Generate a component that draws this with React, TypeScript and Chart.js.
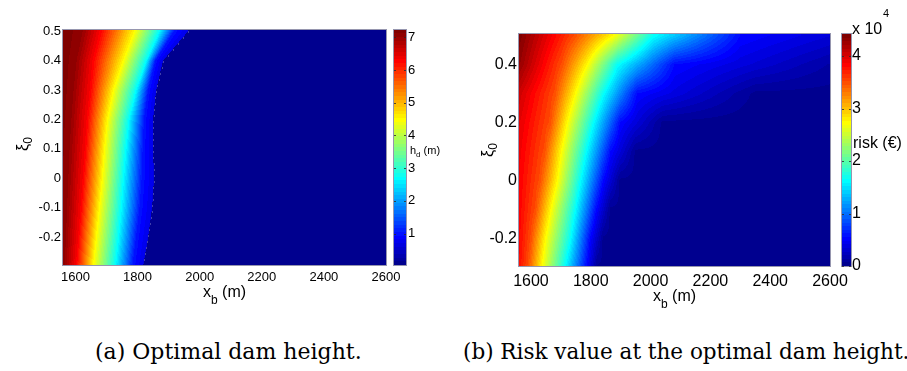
import React, { useEffect, useRef } from "react";
import { Chart, registerables } from "chart.js";

Chart.register(...registerables);

// ---------------- shared axes ----------------
const X_MIN = 1560;
const X_MAX = 2600;
const X_TICKS = [1600, 1800, 2000, 2200, 2400, 2600];
const XI_MIN = -0.295;
const XI_MAX = 0.505;
const XI_ROWS = [0.5, 0.4, 0.3, 0.2, 0.1, 0, -0.1, -0.2, -0.3];

// ---------------- panel (a): optimal dam height h_d (m) ----------------
const XI_TICKS_A = [-0.2, -0.1, 0, 0.1, 0.2, 0.3, 0.4, 0.5];
const HD_MIN = 0.04;
const HD_MAX = 7.23;
const HD_TICKS = [1, 2, 3, 4, 5, 6, 7];
const HD_LEVELS = [7.0, 6.3, 4.5, 2.7, 1.0, 0.7];
const HD_LEFT = [7.23, 7.2, 7.18, 7.15, 7.13, 7.12, 7.1, 7.08, 7.05];
const HD_X_70 = [1625, 1605, 1595, 1588, 1582, 1578, 1574, 1570, 1566];
const HD_X_63 = [1680, 1657, 1648, 1638, 1632, 1625, 1618, 1610, 1603];
const HD_X_45 = [1790, 1754, 1722, 1703, 1693, 1686, 1677, 1667, 1657];
const HD_X_27 = [1870, 1828, 1795, 1772, 1762, 1754, 1747, 1738, 1728];
const HD_X_10 = [1918, 1858, 1835, 1822, 1818, 1815, 1808, 1797, 1785];
const HD_EDGE = [1963, 1882, 1860, 1850, 1850, 1853, 1847, 1834, 1818];
const HD_BEYOND = 0.04;

// ---------------- panel (b): risk (x 10^4 €) ----------------
const XI_TICKS_B = [-0.2, 0, 0.2, 0.4];
const RISK_MIN = 0;
const RISK_MAX = 4.42;
const RISK_TICKS = [0, 1, 2, 3, 4];
const RISK_LEVELS = [3.5, 2.76, 1.66, 0.55, 0.05];
const RISK_LEFT = [4.4, 4.3, 4.05, 3.95, 3.9, 3.87, 3.85, 3.83, 3.8];
const RISK_X_350 = [1747, 1704, 1680, 1664, 1645, 1630, 1615, 1600, 1590];
const RISK_X_276 = [1874, 1787, 1747, 1720, 1700, 1687, 1665, 1647, 1635];
const RISK_X_166 = [2008, 1888, 1841, 1807, 1783, 1764, 1747, 1731, 1712];
const RISK_X_055 = [2300, 2080, 1955, 1898, 1866, 1841, 1818, 1797, 1785];
const RISK_X_005 = [null, null, 2350, 2040, 1950, 1898, 1865, 1841, 1821];
const RISK_RIGHT = [0.35, 0.13, 0.04, 0, 0, 0, 0, 0, 0];

const SANS = "'Liberation Sans', Arial, Helvetica, sans-serif";

// ---------------- helpers ----------------
function jetU(i: number): number {
  if (i < 1 || i > 47) return 0;
  if (i <= 16) return i / 16;
  if (i <= 31) return 1;
  return (48 - i) / 16;
}
function jet64(k: number): [number, number, number] {
  const r = k >= 25 ? jetU(k - 24) : 0;
  const g = k >= 9 && k <= 55 ? jetU(k - 8) : 0;
  const b = k <= 39 ? jetU(k + 8) : 0;
  return [Math.round(r * 255), Math.round(g * 255), Math.round(b * 255)];
}
function colorOf(v: number, cmin: number, cmax: number): [number, number, number] {
  let k = Math.floor(((v - cmin) / (cmax - cmin)) * 64) + 1;
  if (k < 1) k = 1;
  if (k > 64) k = 64;
  return jet64(k);
}
function bracket(xi: number): [number, number, number] {
  const n = XI_ROWS.length;
  if (xi >= XI_ROWS[0]) return [0, 0, 0];
  for (let r = 0; r < n - 1; r++) {
    if (xi <= XI_ROWS[r] && xi >= XI_ROWS[r + 1]) {
      return [r, r + 1, (XI_ROWS[r] - xi) / (XI_ROWS[r] - XI_ROWS[r + 1])];
    }
  }
  return [n - 1, n - 1, 0];
}
function piecewise(xs: number[], vs: number[], x: number): number {
  if (x <= xs[0]) return vs[0];
  for (let k = 1; k < xs.length; k++) {
    if (x <= xs[k]) {
      const d = xs[k] - xs[k - 1] || 1;
      const t = (x - xs[k - 1]) / d;
      return vs[k - 1] + t * (vs[k] - vs[k - 1]);
    }
  }
  return vs[vs.length - 1];
}

type Field = (xi: number) => (x: number) => number;

const HD_POS = [HD_X_70, HD_X_63, HD_X_45, HD_X_27, HD_X_10, HD_EDGE];
const hdField: Field = (xi) => {
  const [r0, r1, w] = bracket(xi);
  const L = (arr: number[]) => arr[r0] * (1 - w) + arr[r1] * w;
  const xs = [X_MIN, ...HD_POS.map(L)];
  const vs = [L(HD_LEFT), ...HD_LEVELS];
  const edge = xs[xs.length - 1];
  return (x) => (x > edge ? HD_BEYOND : piecewise(xs, vs, x));
};
function hdEdgeAt(xi: number) {
  const [r0, r1, w] = bracket(xi);
  return HD_EDGE[r0] * (1 - w) + HD_EDGE[r1] * w;
}

const RISK_POS = [RISK_X_350, RISK_X_276, RISK_X_166, RISK_X_055, RISK_X_005];
function riskRow(r: number) {
  const xs = [X_MIN];
  const vs = [RISK_LEFT[r]];
  RISK_POS.forEach((arr: any[], k) => {
    const p = arr[r];
    if (p != null) {
      xs.push(p);
      vs.push(RISK_LEVELS[k]);
    }
  });
  xs.push(X_MAX);
  vs.push(RISK_RIGHT[r]);
  return { xs, vs };
}
const riskField: Field = (xi) => {
  const [r0, r1, w] = bracket(xi);
  const a = riskRow(r0);
  const b = riskRow(r1);
  return (x) => piecewise(a.xs, a.vs, x) * (1 - w) + piecewise(b.xs, b.vs, x) * w;
};

// text helper: parts = [text, fontSize, baselineOffset]
function drawSub(ctx: CanvasRenderingContext2D, x: number, y: number, parts: [string, number, number][], align: "left" | "center") {
  let total = 0;
  const widths = parts.map(([t, s]) => {
    ctx.font = `${s}px ${SANS}`;
    const w = ctx.measureText(t).width;
    total += w;
    return w;
  });
  let cx = align === "center" ? x - total / 2 : x;
  ctx.textAlign = "left";
  ctx.textBaseline = "alphabetic";
  parts.forEach(([t, s, off], i) => {
    ctx.font = `${s}px ${SANS}`;
    ctx.fillText(t, cx, y + off);
    cx += widths[i];
  });
}

function heatPlugin(s: any) {
  return {
    id: "heat",
    beforeDatasetsDraw(chart: any) {
      const { ctx, chartArea: a, scales } = chart;
      const left = Math.round(a.left);
      const top = Math.round(a.top);
      const w = Math.round(a.right) - left;
      const h = Math.round(a.bottom) - top;
      const off = document.createElement("canvas");
      off.width = w;
      off.height = h;
      const octx = off.getContext("2d")!;
      const img = octx.createImageData(w, h);
      const xVals: number[] = [];
      for (let i = 0; i < w; i++) xVals.push(scales.x.getValueForPixel(left + i + 0.5));
      for (let j = 0; j < h; j++) {
        const xi = scales.y.getValueForPixel(top + j + 0.5);
        const prof = s.field(xi);
        for (let i = 0; i < w; i++) {
          const [r, g, b] = colorOf(prof(xVals[i]), s.cmin, s.cmax);
          const p = (j * w + i) * 4;
          img.data[p] = r;
          img.data[p + 1] = g;
          img.data[p + 2] = b;
          img.data[p + 3] = 255;
        }
      }
      octx.putImageData(img, 0, 0);
      ctx.drawImage(off, left, top);
      if (s.edgeDots) s.edgeDots(ctx, chart);
    },
    afterDraw(chart: any) {
      const { ctx, chartArea: a, scales } = chart;
      ctx.save();
      ctx.strokeStyle = "rgb(150,150,175)";
      ctx.lineWidth = 1;
      ctx.strokeRect(Math.round(a.left) - 0.5, Math.round(a.top) - 0.5, Math.round(a.right - a.left) + 1, Math.round(a.bottom - a.top) + 1);
      const c = scales.c;
      const bx = Math.round(a.right) + s.barGap;
      for (let py = Math.round(c.top); py < Math.round(c.bottom); py++) {
        const v = c.getValueForPixel(py + 0.5);
        const [r, g, b] = colorOf(v, s.cmin, s.cmax);
        ctx.fillStyle = `rgb(${r},${g},${b})`;
        ctx.fillRect(bx, py, s.barW, 1);
      }
      ctx.strokeStyle = "rgb(150,150,175)";
      ctx.strokeRect(bx - 0.5, Math.round(c.top) - 0.5, s.barW + 1, Math.round(c.bottom - c.top) + 1);
      ctx.strokeStyle = "rgba(40,40,40,0.8)";
      s.cTicks.forEach((t: number) => {
        const py = Math.round(c.getPixelForValue(t)) + 0.5;
        ctx.beginPath();
        ctx.moveTo(bx, py);
        ctx.lineTo(bx + 2, py);
        ctx.moveTo(bx + s.barW, py);
        ctx.lineTo(bx + s.barW - 2, py);
        ctx.stroke();
      });
      ctx.fillStyle = "#000";
      s.deco(ctx, chart);
      ctx.restore();
    },
  };
}

function makeChart(canvas: HTMLCanvasElement, s: any) {
  const tickFont = { family: SANS, size: s.font };
  return new Chart(canvas, {
    type: "scatter",
    data: { datasets: [{ data: [], pointRadius: 0 }] },
    options: {
      animation: false,
      responsive: false,
      devicePixelRatio: 1,
      layout: { padding: s.pad },
      plugins: { legend: { display: false }, tooltip: { enabled: false } },
      scales: {
        x: {
          type: "linear",
          min: X_MIN,
          max: X_MAX,
          grid: { display: false, drawTicks: false },
          border: { display: false },
          afterBuildTicks: (ax: any) => {
            ax.ticks = X_TICKS.map((v) => ({ value: v }));
          },
          afterFit: (ax: any) => {
            ax.height = s.xH;
          },
          ticks: { font: tickFont, color: "#000", padding: s.xPad, maxRotation: 0, autoSkip: false, callback: (v: any) => String(v) },
        },
        y: {
          type: "linear",
          position: "left",
          min: XI_MIN,
          max: XI_MAX,
          grid: { display: false, drawTicks: false },
          border: { display: false },
          afterBuildTicks: (ax: any) => {
            ax.ticks = s.yTicks.map((v: number) => ({ value: v }));
          },
          afterFit: (ax: any) => {
            ax.width = s.yW;
          },
          ticks: { font: tickFont, color: "#000", padding: 2, autoSkip: false, callback: (v: any) => String(Math.round(v * 10) / 10) },
        },
        c: {
          type: "linear",
          axis: "y",
          position: "right",
          min: s.cmin,
          max: s.cmax,
          grid: { display: false, drawTicks: false },
          border: { display: false },
          afterBuildTicks: (ax: any) => {
            ax.ticks = s.cTicks.map((v: number) => ({ value: v }));
          },
          afterFit: (ax: any) => {
            ax.width = s.cW;
          },
          ticks: { font: tickFont, color: "#000", padding: s.cPad, autoSkip: false, callback: (v: any) => String(v) },
        },
      },
    } as any,
    plugins: [heatPlugin(s)],
  });
}

const SPEC_A: any = {
  pad: { top: 17, left: 0, right: 4, bottom: 0 },
  yW: 63,
  cW: 70,
  xH: 45,
  font: 13,
  yTicks: XI_TICKS_A,
  cTicks: HD_TICKS,
  cmin: HD_MIN,
  cmax: HD_MAX,
  field: hdField,
  barGap: 8,
  barW: 12,
  cPad: 22,
  xPad: 5,
  edgeDots: (ctx: CanvasRenderingContext2D, chart: any) => {
    const { chartArea: a, scales } = chart;
    ctx.save();
    ctx.fillStyle = "rgba(180,180,230,0.35)";
    for (let py = Math.round(a.top) + 1; py < a.bottom; py += 6) {
      const xi = scales.y.getValueForPixel(py);
      const px = scales.x.getPixelForValue(hdEdgeAt(xi));
      ctx.fillRect(Math.round(px), py, 1, 2);
    }
    ctx.restore();
  },
  deco: (ctx: CanvasRenderingContext2D, chart: any) => {
    const a = chart.chartArea;
    drawSub(ctx, (a.left + a.right) / 2, 297, [["x", 16, 0], ["b", 12, 7], [" (m)", 16, 0]], "center");
    drawSub(ctx, 410, 154, [["h", 11, 0], ["d", 8, 3], [" (m)", 11, 0]], "left");
    ctx.save();
    ctx.translate(28, 144);
    ctx.rotate(-Math.PI / 2);
    drawSub(ctx, 0, 0, [["ξ", 16, 0], ["0", 12, 4]], "center");
    ctx.restore();
  },
};

const SPEC_B: any = {
  pad: { top: 34, left: 0, right: 0, bottom: 0 },
  yW: 59,
  cW: 77,
  xH: 44,
  font: 16,
  yTicks: XI_TICKS_B,
  cTicks: RISK_TICKS,
  cmin: RISK_MIN,
  cmax: RISK_MAX,
  field: riskField,
  barGap: 12,
  barW: 9,
  cPad: 22,
  xPad: 6,
  deco: (ctx: CanvasRenderingContext2D, chart: any) => {
    const a = chart.chartArea;
    drawSub(ctx, (a.left + a.right) / 2, 301, [["x", 16, 0], ["b", 12, 7], [" (m)", 16, 0]], "center");
    drawSub(ctx, 393, 148, [["risk (€)", 16, 0]], "left");
    drawSub(ctx, 392, 34, [["x 10", 16, 0]], "left");
    drawSub(ctx, 423, 17, [["4", 11, 0]], "left");
    ctx.save();
    ctx.translate(33, 150);
    ctx.rotate(-Math.PI / 2);
    drawSub(ctx, 0, 0, [["ξ", 16, 0], ["0", 12, 4]], "center");
    ctx.restore();
  },
};

export default function App() {
  const refA = useRef<HTMLCanvasElement>(null);
  const refB = useRef<HTMLCanvasElement>(null);
  useEffect(() => {
    const ca = makeChart(refA.current!, SPEC_A);
    const cb = makeChart(refB.current!, SPEC_B);
    return () => {
      ca.destroy();
      cb.destroy();
    };
  }, []);
  const capStyle: React.CSSProperties = {
    position: "absolute",
    top: 340,
    fontFamily: "'DejaVu Serif', 'Liberation Serif', serif",
    lineHeight: "24px",
    whiteSpace: "nowrap",
    color: "#000",
  };
  return (
    <div style={{ position: "absolute", left: 0, top: 0, width: 907, height: 371, overflow: "hidden", background: "#fff" }}>
      <canvas ref={refA} width={460} height={310} style={{ position: "absolute", left: 0, top: 0, width: 460, height: 310 }} />
      <canvas ref={refB} width={447} height={310} style={{ position: "absolute", left: 460, top: 0, width: 447, height: 310 }} />
      <div style={{ ...capStyle, left: 95, fontSize: 22 }}>(a) Optimal dam height.</div>
      <div style={{ ...capStyle, left: 463, fontSize: 21.5 }}>(b) Risk value at the optimal dam height.</div>
    </div>
  );
}
